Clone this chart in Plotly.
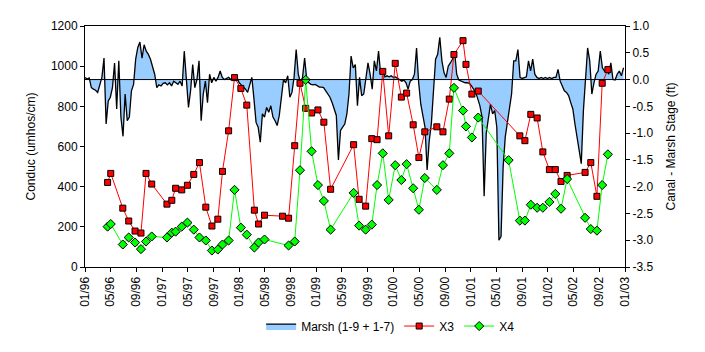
import plotly.graph_objects as go
import pandas as pd

# ---------------- data ----------------
x3_dates = ["1996-04-17","1996-05-02","1996-06-28","1996-07-26","1996-08-25","1996-09-22","1996-10-16","1996-11-12",
            "1997-01-23","1997-02-15","1997-03-05","1997-04-03","1997-04-30","1997-05-30","1997-06-26","1997-07-26","1997-08-24","1997-09-21","1997-10-13","1997-11-11","1997-12-09",
            "1998-01-08","1998-02-05","1998-03-13","1998-04-02","1998-04-30","1998-07-24","1998-08-22","1998-09-20","1998-10-15","1998-11-11","1998-12-09",
            "1999-01-08","1999-02-05","1999-03-09","1999-06-26","1999-07-22","1999-08-22","1999-09-20","1999-10-15","1999-11-11","1999-12-09",
            "2000-01-09","2000-02-07","2000-03-03","2000-04-03","2000-04-30","2000-05-28","2000-07-24","2000-08-22","2000-09-21","2000-10-13","2000-11-25","2000-12-09",
            "2001-01-06","2001-02-05","2001-08-21","2001-09-14","2001-10-12","2001-11-11","2001-12-08",
            "2002-01-08","2002-02-05","2002-03-04","2002-04-02","2002-06-26","2002-07-23","2002-08-21","2002-09-15","2002-10-12"]
x3_values = [421,466,293,229,179,169,466,413,
             313,332,392,384,407,461,520,298,204,238,476,678,943,
             889,806,283,214,258,253,243,604,915,790,767,782,
             721,387,609,337,303,639,634,974,653,1014,
             846,866,708,545,673,698,673,836,1058,1127,1009,861,
             876,653,629,760,742,573,485,
             485,426,456,471,520,352,915,983]

x4_dates = ["1996-04-17","1996-05-02","1996-06-28","1996-07-26","1996-08-25","1996-09-22","1996-10-16","1996-11-12",
            "1997-01-23","1997-02-15","1997-03-05","1997-04-03","1997-04-30","1997-05-30","1997-06-26","1997-07-26","1997-08-24","1997-09-21","1997-10-13","1997-11-11","1997-12-09",
            "1998-01-08","1998-02-05","1998-03-13","1998-04-02","1998-04-30","1998-08-22","1998-09-20","1998-10-15","1998-11-11","1998-12-09",
            "1999-01-08","1999-02-05","1999-03-09","1999-06-26","1999-07-22","1999-08-22","1999-09-20","1999-10-15","1999-11-11","1999-12-09",
            "2000-01-09","2000-02-07","2000-03-03","2000-04-03","2000-04-30","2000-05-28","2000-07-24","2000-08-22","2000-09-21","2000-10-13","2000-11-25","2000-12-09",
            "2001-01-06","2001-02-05","2001-06-29","2001-08-21","2001-09-14","2001-10-12","2001-11-11","2001-12-08",
            "2002-01-08","2002-02-05","2002-03-04","2002-04-02","2002-06-26","2002-07-23","2002-08-21","2002-09-15","2002-10-12"]
x4_values = [201,214,112,147,122,89,127,152,
             147,171,176,201,221,186,147,132,82,87,112,132,384,
             196,161,97,122,137,107,127,482,932,576,
             408,329,186,369,206,186,211,408,566,334,
             507,433,512,392,285,443,384,507,566,892,779,700,
             645,744,532,231,231,310,295,295,
             324,364,290,438,245,189,181,408,561]

marsh_start = "1996-01-01"
marsh_step_days = 10
marsh_stage = [
    0.04, 0.01, 0.03, -0.15, -0.18, -0.2, -0.24, -0.12, 0.04, 0.4,
    -0.83, -0.4, -0.33, -0.15, 0.31, -0.55, 0.35, -0.7, -1.06, -0.27,
    -0.77, -0.7, -0.21, -0.09, 0.38, 0.6, 0.7, 0.4, 0.65, 0.53,
    0.47, 0.38, 0.22, 0.1, -0.15, -0.1, -0.12, -0.07, -0.06, -0.1,
    -0.06, -0.12, -0.03, -0.07, -0.09, -0.03, -0.12, 0.53, 0.04, -0.52,
    -0.21, 0.28, -0.15, 0.0, 0.35, -0.77, -0.27, -0.03, -0.43, 0.1,
    -0.06, 0.04, -0.03, 0.04, 0.16,
    0.04, 0.0, 0.02, 0.04, 0.0, 0.04, 0.07, 0.04, -0.06, -0.1,
    -0.14, -0.18, -0.24, -0.12, 0.04, -0.36, -0.8, -0.89, -1.17, -0.64,
    -0.7, -0.52, -0.61, -0.49, -0.7, -0.77, -0.86, -0.67, -0.27, 0.0,
    -0.06, 0.07, -0.33, -0.24, 0.04, 0.56, 0.1, -0.06, 0.04, 0.4,
    0.0, -0.06, -0.09, -0.1, -0.09, -0.12, -0.14, -0.14, -0.15, -0.21,
    -0.27, -0.33, -0.43, -0.55, -0.67, -1.5, -0.95, -0.89, -0.83, -0.64,
    -0.27, 0.44, 0.22, 0.28, -0.49, 0.04,
    -0.3, -0.27, 0.0, 0.31, 0.1, -0.18, 0.35, 0.16, 0.53, 0.1,
    0.19, 0.05, 0.07, 0.05, 0.07, 0.04, 0.05, 0.02, 0.0, -0.03,
    -0.01, -0.06, -0.18, -0.03, 0.0, 0.1, 0.59, -0.06, -0.46, -0.7,
    -0.89, -1.69, -1.14, -0.83, -0.27, 0.38, 0.47, 0.79, 0.35, 0.13,
    0.04, 0.25, 0.31, 0.38, 0.53, 0.1, -0.01, -0.03, -0.04, -0.06,
    -0.06, -0.07, -0.12, -0.18, -0.24, -0.36, -0.49, -0.7, -2.18, -1.0,
    -0.77, -0.46, -0.64, -0.58,
    -0.89, -3.0, -2.93, -1.63, -1.07, -0.77, -0.52, -0.27, 0.35, 0.35,
    0.56, 0.04, 0.02, 0.04, 0.05, 0.35, 0.16, 0.38, 0.1, 0.04,
    0.02, 0.04, 0.02, 0.04, 0.02, 0.04, 0.02, 0.04, 0.04, 0.19,
    -0.03, -0.12, -0.21, -0.24, -0.3, -0.43, -0.55, -0.83, -1.07, -1.32,
    -1.57, -0.58, 0.04, 0.59, 0.35, -0.27, -0.06, 0.1, 0.16, 0.53,
    0.22, 0.16, 0.19, 0.1, 0.31, 0.0, -0.01, 0.1, 0.16, 0.07, 0.22,
]
marsh_dates = pd.date_range(marsh_start, periods=len(marsh_stage), freq=f"{marsh_step_days}D")

stage_ticks = [1.0, 0.5, 0.0, -0.5, -1.0, -1.5, -2.0, -2.5, -3.0, -3.5]
stage_ticktext = ["1.0", "0.5", "0.0", "-0.5", "-1.0", "-1.5", "-2.0", "-2.5", "-3.0", "-3.5"]
cond_ticks = [0, 200, 400, 600, 800, 1000, 1200]

# ---------------- figure ----------------
FONT = "Liberation Sans, Arial, sans-serif"
fig = go.Figure()

fig.add_trace(go.Scatter(
    x=marsh_dates, y=marsh_stage, name="Marsh (1-9 + 1-7)",
    mode="lines", fill="tozeroy", fillcolor="#99CCFF",
    line=dict(color="black", width=1.3), yaxis="y"))

fig.add_trace(go.Scatter(
    x=x3_dates, y=x3_values, name="X3", mode="lines+markers",
    line=dict(color="#FF0000", width=1),
    marker=dict(symbol="square", size=6, color="#FF0000", line=dict(color="black", width=1)),
    yaxis="y2"))

fig.add_trace(go.Scatter(
    x=x4_dates, y=x4_values, name="X4", mode="lines+markers",
    line=dict(color="#00FF00", width=1),
    marker=dict(symbol="diamond", size=7, color="#00FF00", line=dict(color="black", width=1)),
    yaxis="y2"))

fig.update_layout(
    width=705, height=352,
    margin=dict(l=85, r=80, t=26, b=83),
    paper_bgcolor="white", plot_bgcolor="white",
    font=dict(family=FONT, size=12, color="black"),
    showlegend=True,
    legend=dict(orientation="h", x=0.566, xanchor="center", y=-0.245, yanchor="middle",
                font=dict(size=12), bgcolor="rgba(0,0,0,0)", itemwidth=30,
                tracegroupgap=0),
    xaxis=dict(type="date", range=["1996-01-01", "2003-01-01"],
               tick0="1996-01-01", dtick="M4", tickformat="%m/%y", tickangle=-90,
               ticks="outside", ticklen=4, tickcolor="black",
               showline=True, linecolor="black", linewidth=1, mirror=True,
               showgrid=False, zeroline=False, tickfont=dict(size=12)),
    yaxis=dict(side="right", range=[-3.5, 1.0], tickvals=stage_ticks, ticktext=stage_ticktext,
               ticks="outside", ticklen=4, tickcolor="black",
               showline=True, linecolor="black", linewidth=1,
               showgrid=False, zeroline=False,
               title=dict(text="Canal - Marsh Stage (ft)", font=dict(size=12), standoff=14)),
    yaxis2=dict(overlaying="y", side="left", range=[0, 1200], tickvals=cond_ticks,
                ticks="outside", ticklen=4, tickcolor="black",
                showline=True, linecolor="black", linewidth=1,
                showgrid=False, zeroline=False,
                title=dict(text="Conduc (umhos/cm)", font=dict(size=12), standoff=12)),
    shapes=[dict(type="line", xref="paper", x0=0, x1=1, yref="y", y0=0, y1=0,
                 line=dict(color="black", width=1), layer="above")],
)

fig.write_html("out.html")
